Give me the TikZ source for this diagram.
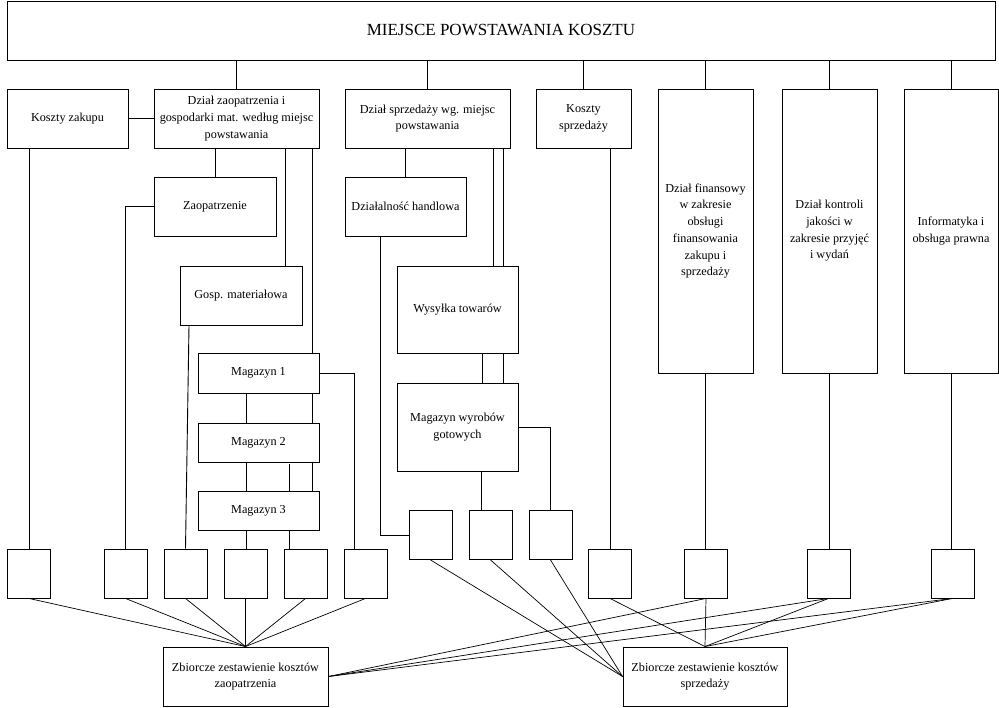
\documentclass[tikz,border=0pt]{standalone}
\usepackage{fontspec}
\setmainfont{Liberation Serif}
\begin{document}
\begin{tikzpicture}[x=1pt,y=-1pt,
  box/.style={draw,line width=0.9pt,rectangle,inner sep=0pt,align=center,
    font=\fontsize{12.2}{16.7}\selectfont},
  sq/.style={draw,line width=0.9pt,rectangle,inner sep=0pt,minimum width=43pt,minimum height=49pt},
  conn/.style={line width=0.9pt}]
\useasboundingbox (0,0) rectangle (999,708);
% top
\node[box,minimum width=988pt,minimum height=59pt,font=\fontsize{17}{20}\selectfont] (top) at (501,30.5) {MIEJSCE POWSTAWANIA KOSZTU};
% second row
\node[box,minimum width=121pt,minimum height=59pt] (kz) at (67.5,118.5) {Koszty zakupu};
\node[box,minimum width=165pt,minimum height=59pt] (dz) at (236.5,118.5) {Dział zaopatrzenia i\\gospodarki mat. według miejsc\\powstawania};
\node[box,minimum width=165pt,minimum height=59pt] (ds) at (427.5,118.5) {Dział sprzedaży wg. miejsc\\powstawania};
\node[box,minimum width=95pt,minimum height=59pt] (ks) at (583.5,118.5) {Koszty\\sprzedaży};
\node[box,minimum width=95pt,minimum height=284pt] (df) at (705.5,231) {Dział finansowy\\w zakresie\\obsługi\\finansowania\\zakupu i\\sprzedaży};
\node[box,minimum width=95pt,minimum height=284pt] (dk) at (829.5,231) {Dział kontroli\\jakości w\\zakresie przyjęć\\i wydań};
\node[box,minimum width=94pt,minimum height=284pt] (inf) at (951,231) {Informatyka i\\obsługa prawna};
% supply branch
\node[box,minimum width=122pt,minimum height=59pt] (zp) at (215,206.5) {Zaopatrzenie};
\node[box,minimum width=122pt,minimum height=59pt] (gm) at (241,295.5) {Gosp. materiałowa};
\node[box,minimum width=121pt,minimum height=40pt] (m1) at (258.5,373) {Magazyn 1};
\node[box,minimum width=121pt,minimum height=39pt] (m2) at (258.5,442.5) {Magazyn 2};
\node[box,minimum width=121pt,minimum height=39pt] (m3) at (258.5,510.5) {Magazyn 3};
% sales branch
\node[box,minimum width=121pt,minimum height=59pt] (dh) at (405.5,206.5) {Działalność handlowa};
\node[box,minimum width=121pt,minimum height=87pt] (wt) at (457.5,309.5) {Wysyłka towarów};
\node[box,minimum width=121pt,minimum height=88pt] (mw) at (457.5,427) {Magazyn wyrobów\\gotowych};
% small boxes
\node[sq] (b1) at (29,573.5) {};
\node[sq] (b2) at (125.5,573.5) {};
\node[sq] (b3) at (185.5,573.5) {};
\node[sq] (b4) at (245.5,573.5) {};
\node[sq] (b5) at (305.5,573.5) {};
\node[sq] (b6) at (365.5,573.5) {};
\node[sq] (b7) at (430.5,535) {};
\node[sq] (b8) at (490.5,535) {};
\node[sq] (b9) at (550.5,535) {};
\node[sq] (b10) at (610,573.5) {};
\node[sq] (b11) at (706,573.5) {};
\node[sq] (b12) at (828.5,573.5) {};
\node[sq] (b13) at (952.5,573.5) {};
% summary boxes
\node[box,minimum width=165pt,minimum height=59pt] (zz) at (245.5,676.5) {Zbiorcze zestawienie kosztów\\zaopatrzenia};
\node[box,minimum width=164pt,minimum height=59pt] (zs) at (705,676.5) {Zbiorcze zestawienie kosztów\\sprzedaży};
% connectors from top
\foreach \n in {dz,ds,ks,df,dk,inf}{
  \draw[conn] (\n.north |- top.south) -- (\n.north);
}
\draw[conn] (kz.east) -- (dz.west);
\draw[conn] (b1.north |- kz.south) -- (b1.north);
% supply branch
\draw[conn] (zp.north |- dz.south) -- (zp.north);
\draw[conn] ([xshift=48.5pt]dz.south) -- ([xshift=48.5pt]dz.south |- gm.north);
\draw[conn] ([xshift=75.5pt]dz.south) -- ([xshift=75.5pt]dz.south |- m1.north);
\draw[conn] (zp.west) -| (b2.north);
\draw[conn] ([xshift=-52pt]gm.south) -- (b3.north);
\draw[conn] ([xshift=-12.5pt]m1.south) -- ([xshift=-12.5pt]m1.south |- m2.north);
\draw[conn] ([xshift=53.5pt]m1.south) -- ([xshift=53.5pt]m1.south |- m2.north);
\draw[conn] ([xshift=-12.5pt]m2.south) -- ([xshift=-12.5pt]m2.south |- m3.north);
\draw[conn] ([xshift=53.5pt]m2.south) -- ([xshift=53.5pt]m2.south |- m3.north);
\draw[conn] ([xshift=30.5pt,yshift=-2pt]m2.south) -- ([xshift=30.5pt]m2.south |- m3.north);
\draw[conn] ([xshift=-12.5pt]m3.south) -- ([xshift=-12.5pt]m3.south |- b4.north);
\draw[conn] ([xshift=30.5pt]m3.south) -- ([xshift=30.5pt]m3.south |- b5.north);
\draw[conn] (m1.east) -| ([xshift=-11.5pt]b6.north);
% sales branch
\draw[conn] (dh.north |- ds.south) -- (dh.north);
\draw[conn] ([xshift=35.5pt]wt.north |- ds.south) -- ([xshift=35.5pt]wt.north);
\draw[conn] ([xshift=45.5pt]wt.north |- ds.south) -- ([xshift=45.5pt]wt.north);
\draw[conn] ([xshift=24.5pt]wt.south) -- ([xshift=24.5pt]wt.south |- mw.north);
\draw[conn] ([xshift=45.5pt]wt.south) -- ([xshift=45.5pt]wt.south |- mw.north);
\draw[conn] ([xshift=-25.5pt]dh.south) |- (b7.west);
\draw[conn] ([xshift=23.5pt]mw.south) -- ([xshift=23.5pt]mw.south |- b8.north);
\draw[conn] (mw.east) -| (b9.north);
\draw[conn] (b10.north |- ks.south) -- (b10.north);
\draw[conn] (df.south) -- (df.south |- b11.north);
\draw[conn] (dk.south) -- (dk.south |- b12.north);
\draw[conn] (inf.south) -- (inf.south |- b13.north);
% to summaries
\foreach \n in {b1,b2,b3,b4,b5,b6}{
  \draw[conn,line width=0.7pt] (\n.south) -- (zz.north);
}
\foreach \n in {b7,b8,b9}{
  \draw[conn,line width=0.7pt] (\n.south) -- (zs.west);
}
\foreach \n in {b10,b11,b12,b13}{
  \draw[conn,line width=0.7pt] (\n.south) -- (zs.north);
}
\foreach \n in {b11,b12,b13}{
  \draw[conn,line width=0.7pt] (\n.south) -- (zz.east);
}
\end{tikzpicture}
\end{document}
